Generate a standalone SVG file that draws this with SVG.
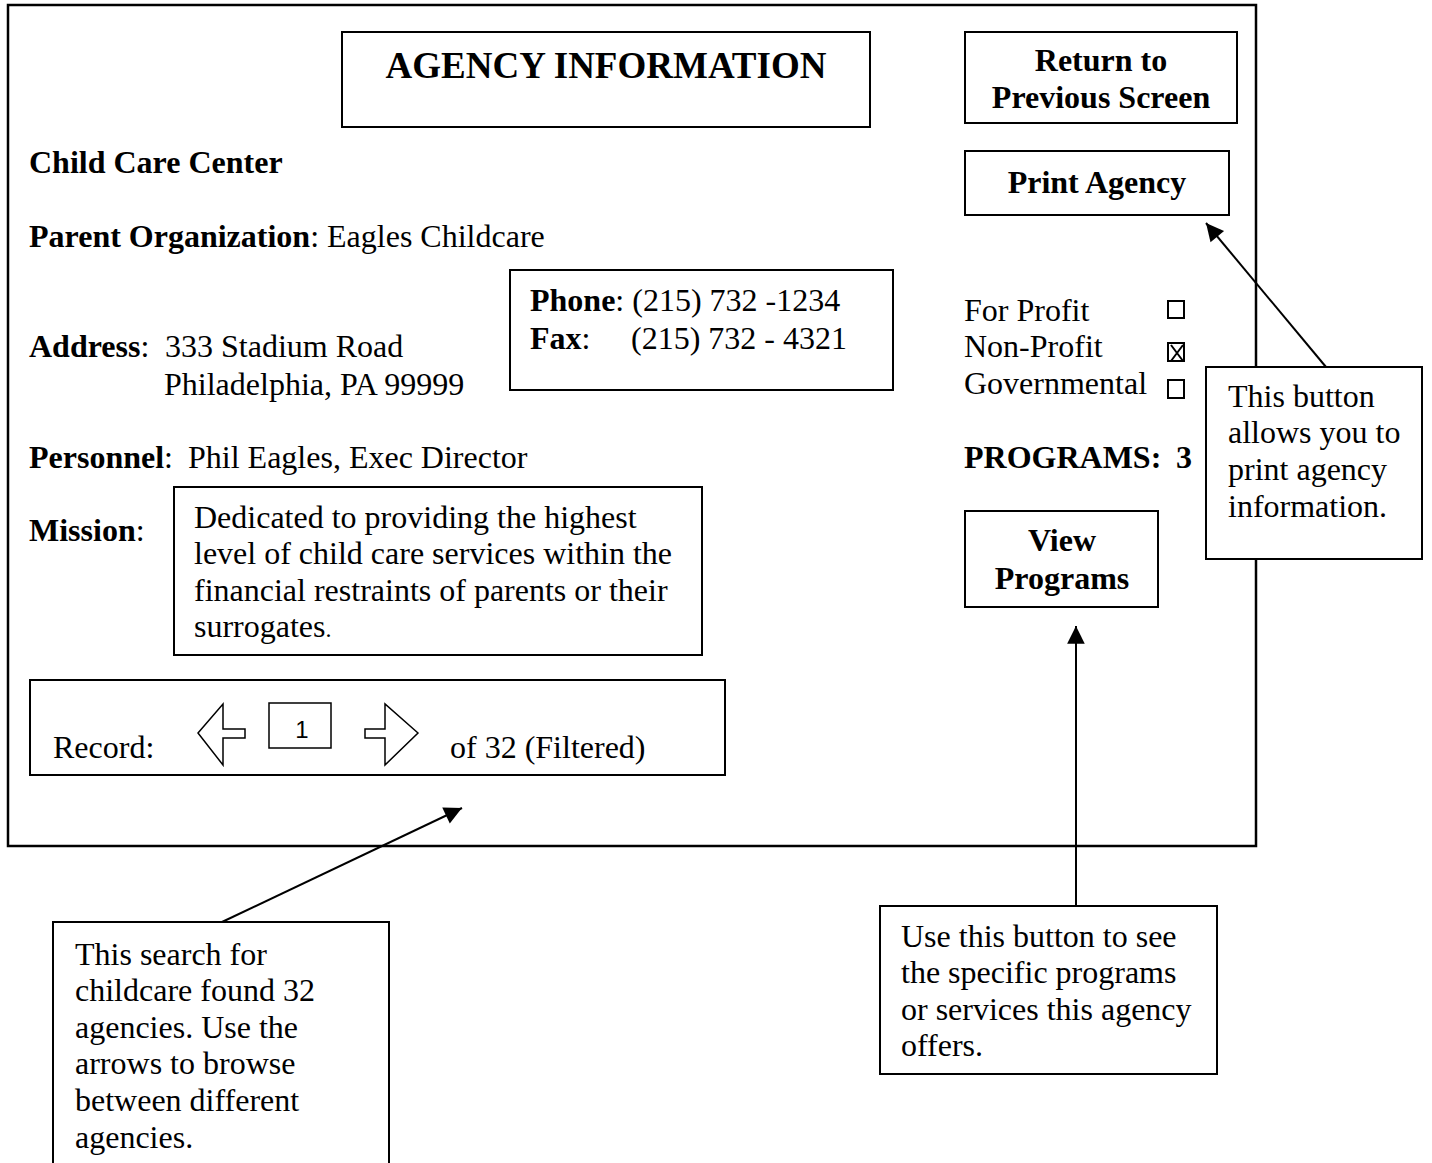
<svg xmlns="http://www.w3.org/2000/svg" width="1432" height="1163" viewBox="0 0 1432 1163">
<style>
text{font-family:"Liberation Serif","Times New Roman",serif;font-size:32px;fill:#000}
.b{font-weight:bold}
.c{text-anchor:middle}
.box{fill:#fff;stroke:#000;stroke-width:2}
.frame{fill:none;stroke:#000;stroke-width:2.5}
.ln{stroke:#000;stroke-width:2;fill:none}
.ar{fill:#fff;stroke:#000;stroke-width:1.5}
</style>
<defs>
<marker id="ah" viewBox="0 0 10 10" refX="10" refY="5" markerWidth="8" markerHeight="8" markerUnits="userSpaceOnUse" orient="auto" overflow="visible">
<path d="M0,0 L10,5 L0,10 z" fill="#000" transform="scale(2.2) translate(-5.5,-2.75)"/>
</marker>
</defs>
<g id="frame"><rect class="frame" x="8" y="5" width="1248" height="841"/></g>

<g id="title"><rect class="box" x="342" y="32" width="528" height="95"/>
<text class="b c" x="606" y="78" style="font-size:37px">AGENCY INFORMATION</text></g>

<g id="return-btn"><rect class="box" x="965" y="32" width="272" height="91"/>
<text class="b c" x="1101" y="71">Return to</text><text class="b c" x="1101" y="108">Previous Screen</text></g>

<g id="print-btn"><rect class="box" x="965" y="151" width="264" height="64"/>
<text class="b c" x="1097" y="193">Print Agency</text></g>

<g id="info">
<text class="b" x="29" y="173">Child Care Center</text>
<text x="29" y="247"><tspan class="b">Parent Organization</tspan>: Eagles Childcare</text>
<text x="29" y="357"><tspan class="b">Address</tspan>:</text>
<text x="165" y="357">333 Stadium Road</text>
<text x="164" y="395">Philadelphia, PA 99999</text>
<text x="29" y="468"><tspan class="b">Personnel</tspan>:</text>
<text x="188" y="468">Phil Eagles, Exec Director</text>
<text x="29" y="541"><tspan class="b">Mission</tspan>:</text>
</g>

<g id="phone-box"><rect class="box" x="510" y="270" width="383" height="120"/>
<text x="530" y="311"><tspan class="b">Phone</tspan>: (215) 732 -1234</text>
<text x="530" y="349"><tspan class="b">Fax</tspan>:</text>
<text x="631" y="349">(215) 732 - 4321</text></g>

<g id="type">
<text x="964" y="321">For Profit</text>
<text x="964" y="357">Non-Profit</text>
<text x="964" y="394">Governmental</text>
<rect x="1168" y="301" width="16" height="17" fill="none" stroke="#000" stroke-width="2"/>
<rect x="1168" y="343" width="16" height="18" fill="none" stroke="#000" stroke-width="2"/>
<path d="M1171,345 L1183,361 M1183,345 L1171,361" stroke="#000" stroke-width="2"/>
<rect x="1168" y="380" width="16" height="18" fill="none" stroke="#000" stroke-width="2"/>
</g>

<g id="programs-count"><text class="b" x="964" y="468">PROGRAMS:</text><text class="b" x="1176" y="468">3</text></g>

<g id="mission-box"><rect class="box" x="174" y="487" width="528" height="168"/>
<text x="194" y="528">Dedicated to providing the highest</text>
<text x="194" y="564">level of child care services within the</text>
<text x="194" y="601">financial restraints of parents or their</text>
<text x="194" y="637">surrogates<tspan style="font-size:24px">.</tspan></text></g>

<g id="view-btn"><rect class="box" x="965" y="511" width="193" height="96"/>
<text class="b c" x="1062" y="551">View</text><text class="b c" x="1062" y="589">Programs</text></g>

<g id="record-box"><rect class="box" x="30" y="680" width="695" height="95"/>
<text x="53" y="758">Record:</text>
<path class="ar" d="M198,733 L223,704 L223,729 L245,729 L245,738 L223,738 L223,765 Z"/>
<rect x="269" y="703" width="62" height="45" fill="#fff" stroke="#000" stroke-width="1.5"/>
<text class="c" x="302" y="738" style="font-family:'Liberation Sans',Arial,sans-serif;font-size:24px">1</text>
<path class="ar" d="M418,733 L385,704 L385,729 L365,729 L365,738 L385,738 L385,765 Z"/>
<text x="450" y="758">of 32 (Filtered)</text></g>

<g id="connectors">
<line class="ln" x1="1326" y1="367" x2="1206" y2="223" marker-end="url(#ah)"/>
<line class="ln" x1="1076" y1="906" x2="1076" y2="626" marker-end="url(#ah)"/>
<line class="ln" x1="222" y1="922" x2="462" y2="808" marker-end="url(#ah)"/>
</g>

<g id="print-tip"><rect class="box" x="1206" y="367" width="216" height="192"/>
<text x="1228" y="407">This button</text><text x="1228" y="443">allows you to</text>
<text x="1228" y="480">print agency</text><text x="1228" y="517">information.</text></g>

<g id="view-tip"><rect class="box" x="880" y="906" width="337" height="168"/>
<text x="901" y="947">Use this button to see</text><text x="901" y="983">the specific programs</text>
<text x="901" y="1020">or services this agency</text><text x="901" y="1056">offers.</text></g>

<g id="search-tip"><rect class="box" x="53" y="922" width="336" height="260"/>
<text x="75" y="965">This search for</text><text x="75" y="1001">childcare found 32</text>
<text x="75" y="1038">agencies. Use the</text><text x="75" y="1074">arrows to browse</text>
<text x="75" y="1111">between different</text><text x="75" y="1148">agencies.</text></g>
</svg>
